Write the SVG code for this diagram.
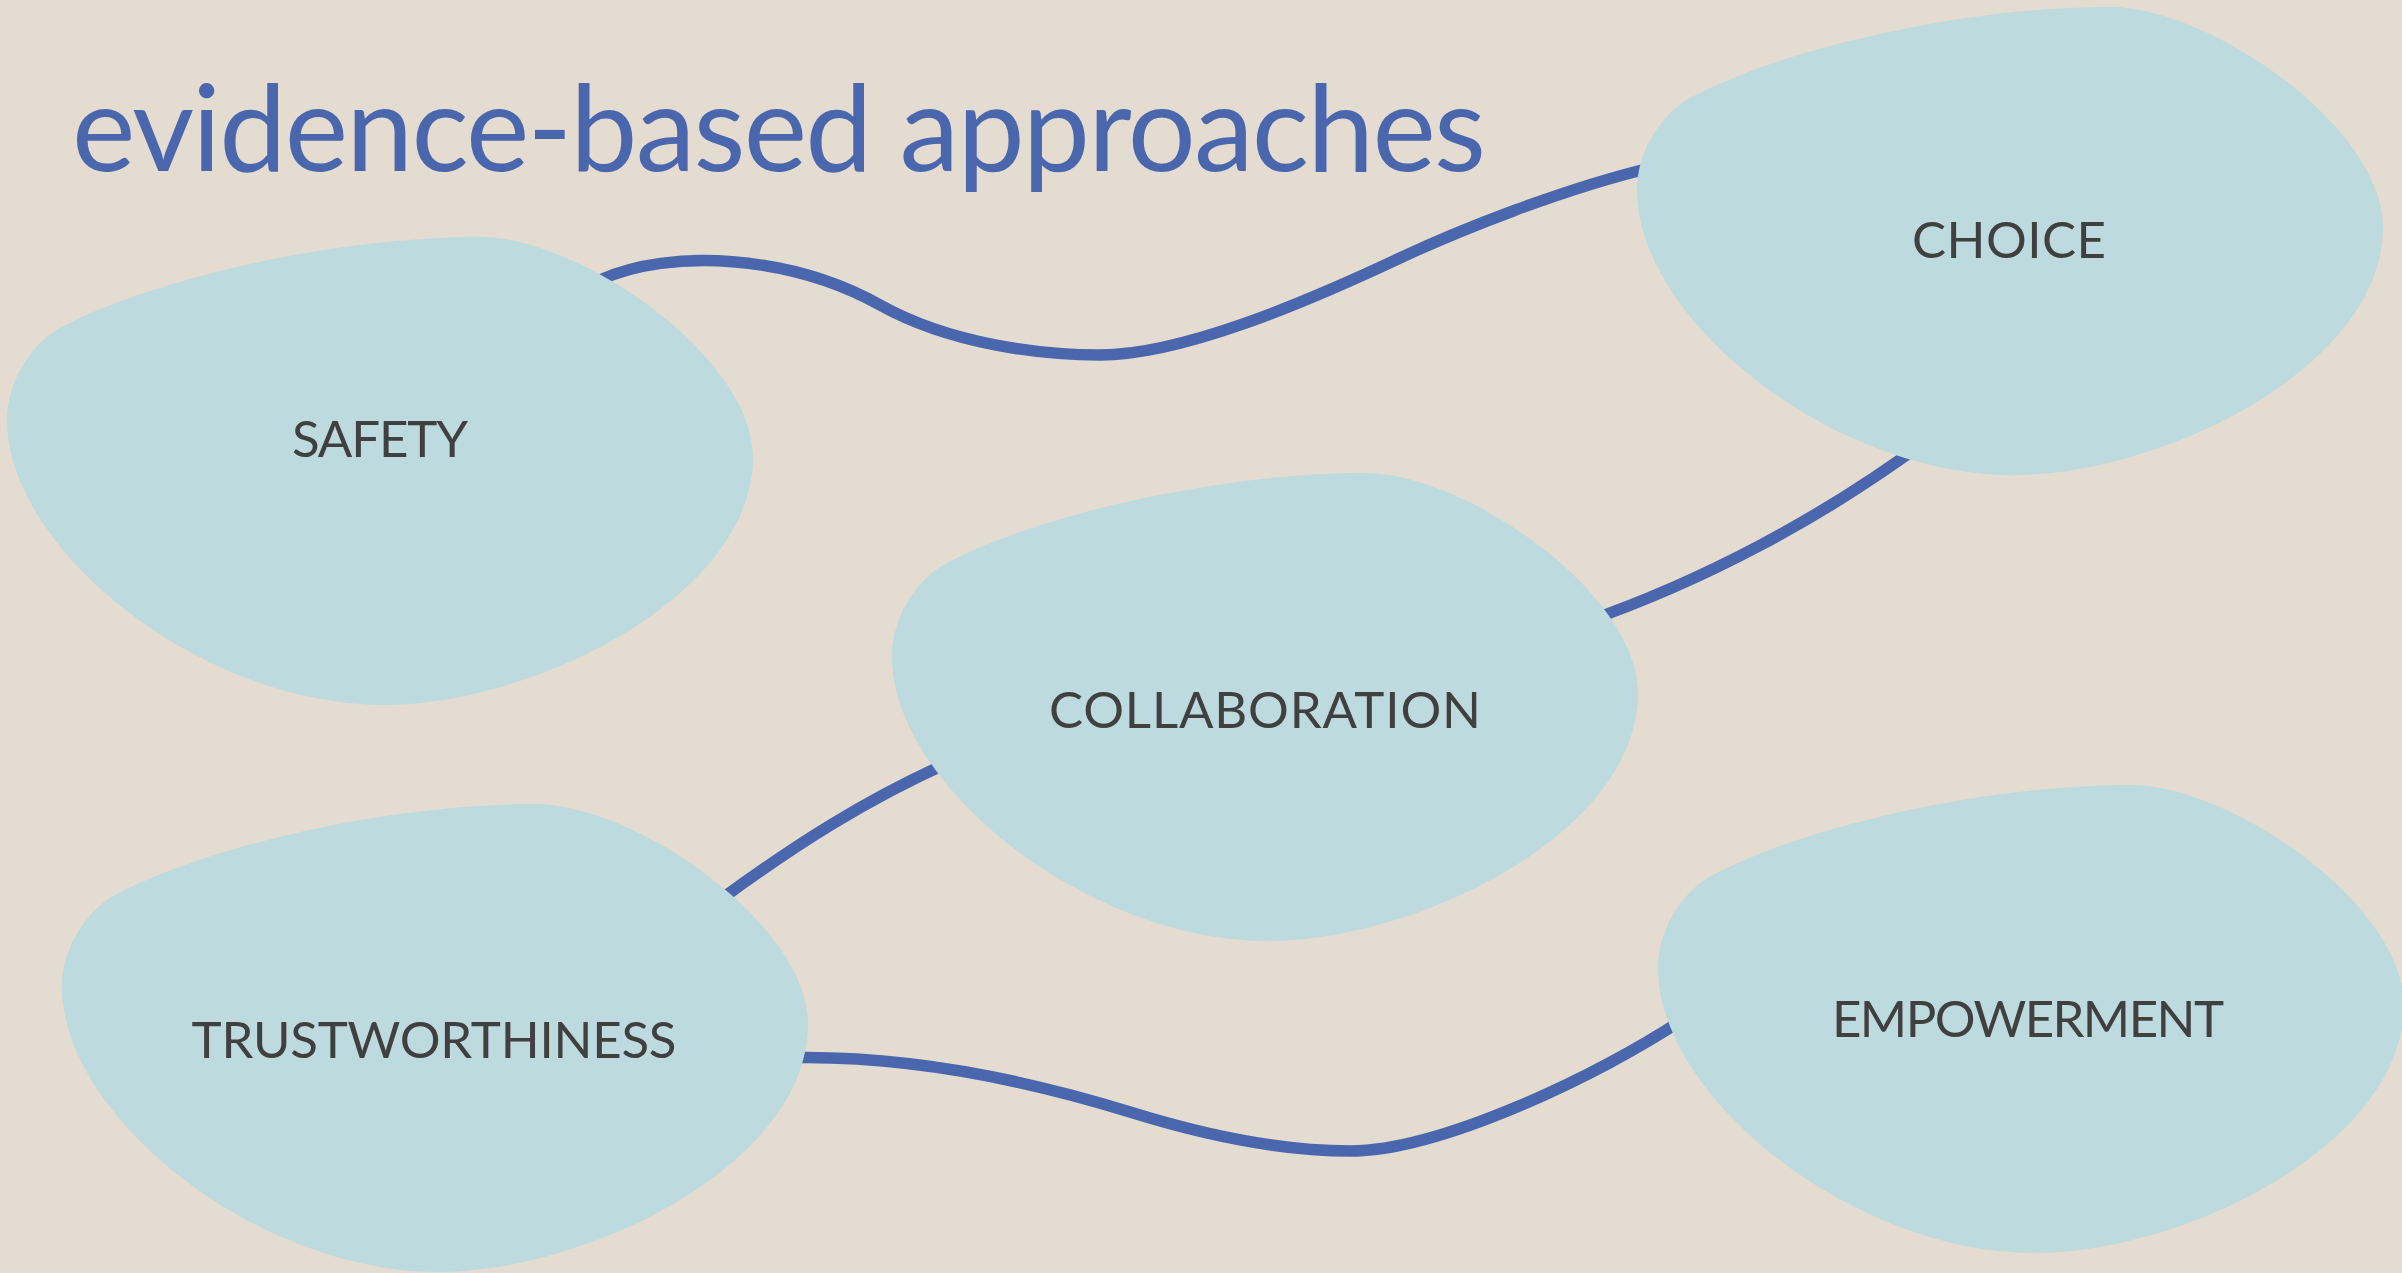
<svg xmlns="http://www.w3.org/2000/svg" xmlns:xlink="http://www.w3.org/1999/xlink" width="2402" height="1273" viewBox="0 0 2402 1273">
  <style>
    .bg { fill: #E4DBD1; }
    .blob { fill: #BDDADE; }
    .link { fill: none; stroke: #4A67AE; stroke-width: 11.5; stroke-linecap: butt; }
    .title { font-family: Lato, "Open Sans", "DejaVu Sans", sans-serif; font-size: 120px; fill: #4A67AE; }
    .label { font-family: Lato, "Open Sans", "DejaVu Sans", sans-serif; font-size: 51px; fill: #404040; text-anchor: middle; }
  </style>
  <defs>
    <!-- shared organic blob outline, drawn at the SAFETY position -->
    <path id="blob" d="M 480,237 C 580,237 753,357 753,457 C 753,597 533,705 383,705 C 203,705 7,550 7,420 C 7,380 33.6,342 60,328 C 148,280.5 330,237 480,237 Z"/>
  </defs>

  <rect class="bg" x="0" y="0" width="2402" height="1273"/>

  <text class="title" x="72" y="171" textLength="1414">evidence-based approaches</text>

  <!-- connectors sit beneath the blobs -->
  <g id="connectors">
    <path class="link" d="M 600,280 C 670,248 790,255 880,305 C 950,344 1040,355 1100,355 C 1180,355 1300,305 1400,258 C 1460,230 1560,190 1650,168"/>
    <path class="link" d="M 1585,622 C 1700,582 1820,520 1930,438"/>
    <path class="link" d="M 720,900 C 795,845 865,800 950,762"/>
    <path class="link" d="M 780,1058 C 900,1054 1020,1078 1130,1112 C 1220,1140 1290,1151 1350,1151 C 1440,1151 1600,1075 1685,1018"/>
  </g>

  <g id="safety">
    <use xlink:href="#blob" class="blob"/>
    <text class="label" x="380" y="457" textLength="176">SAFETY</text>
  </g>

  <g id="choice">
    <use xlink:href="#blob" class="blob" transform="translate(1630,-230)"/>
    <text class="label" x="2009" y="258" textLength="194">CHOICE</text>
  </g>

  <g id="collaboration">
    <use xlink:href="#blob" class="blob" transform="translate(885,236)"/>
    <text class="label" x="1265" y="728" textLength="432">COLLABORATION</text>
  </g>

  <g id="trustworthiness">
    <use xlink:href="#blob" class="blob" transform="translate(55,567)"/>
    <text class="label" x="434" y="1058" textLength="485">TRUSTWORTHINESS</text>
  </g>

  <g id="empowerment">
    <use xlink:href="#blob" class="blob" transform="translate(1651,548)"/>
    <text class="label" x="2028" y="1037" textLength="392">EMPOWERMENT</text>
  </g>
</svg>
